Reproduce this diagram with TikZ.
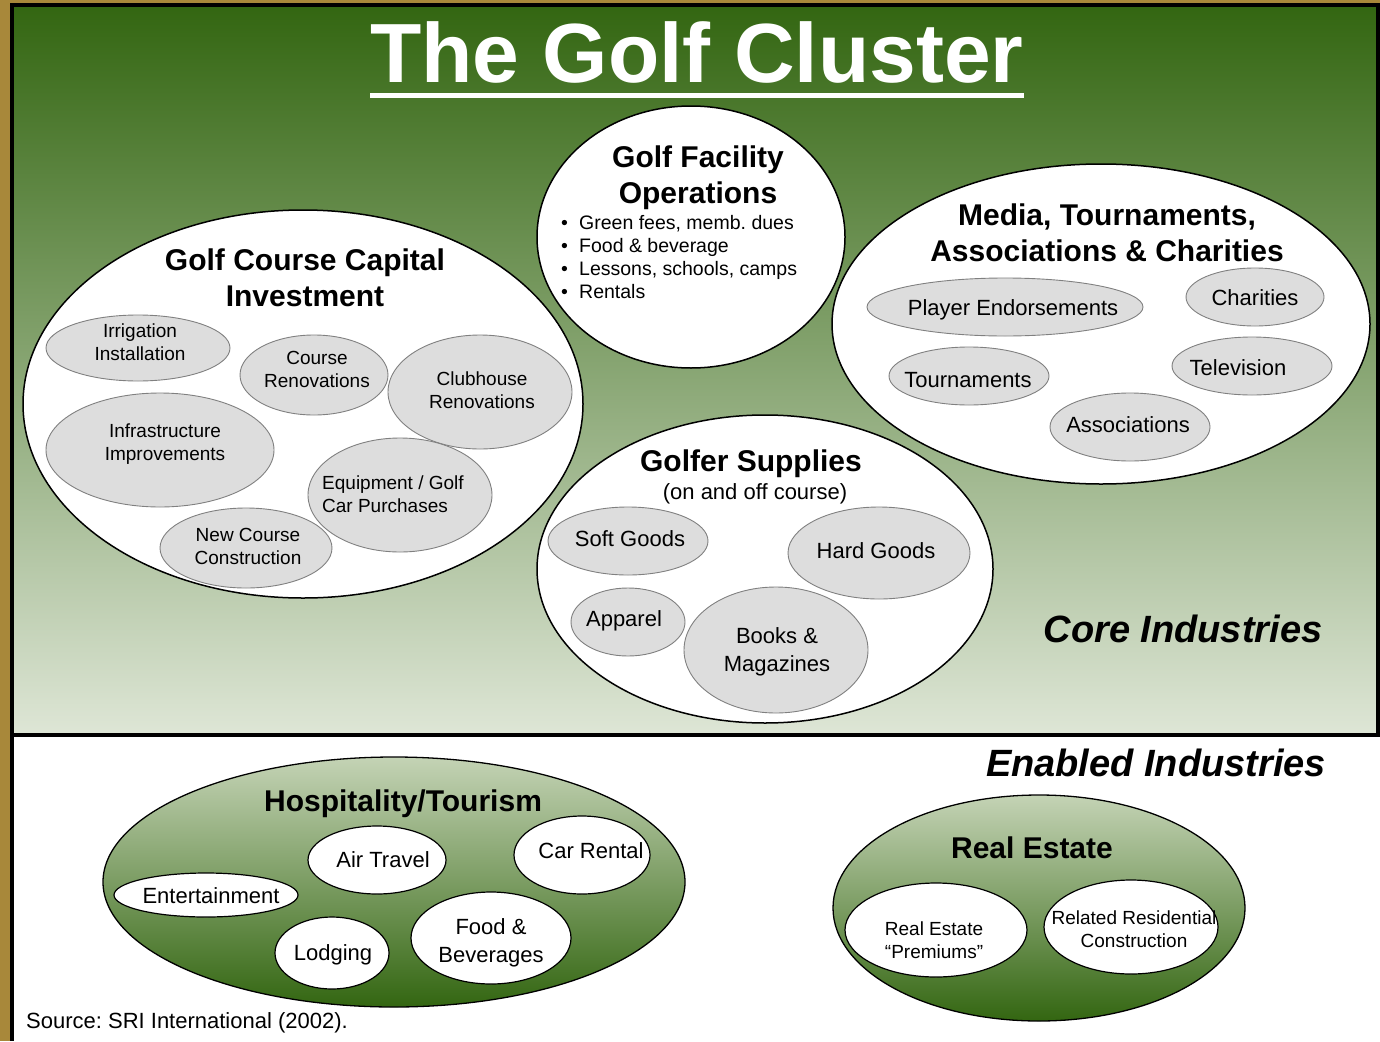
\documentclass[tikz,border=0pt]{standalone}
\usepackage{fontspec}
\setmainfont{Liberation Sans}
\usetikzlibrary{shapes.geometric}
\frenchspacing
\definecolor{gold}{RGB}{168,136,58}
\definecolor{gtop}{RGB}{51,102,17}
\definecolor{gbot}{RGB}{222,230,214}
\definecolor{etop}{RGB}{196,211,181}
\definecolor{ebot}{RGB}{51,102,17}
\definecolor{ggray}{RGB}{221,221,221}
\definecolor{gline}{RGB}{128,128,128}
\newcommand{\fsz}[2]{\fontsize{#1}{#2}\selectfont}
\tikzset{
  sz/.style 2 args={minimum width=2*#1, minimum height=2*#2},
  outerell/.style={ellipse, draw=black, line width=1.5pt, fill=white, inner sep=0pt},
  grayell/.style={ellipse, draw=gline, line width=0.9pt, fill=ggray, inner sep=0pt},
  whiteell/.style={ellipse, draw=black, line width=1.2pt, fill=white, inner sep=0pt},
  greenell/.style={ellipse, draw=black, line width=1.3pt, top color=etop, bottom color=ebot, inner sep=0pt},
  lbl/.style={inner sep=0pt, align=center, font=\fsz{19}{23}},
  mlbl/.style={inner sep=0pt, align=center, font=\fsz{22}{28}},
  head/.style={inner sep=0pt, align=center, font=\fsz{30}{36}\bfseries},
  big/.style={inner sep=0pt, font=\fsz{38}{40}\bfseries\itshape},
}
\begin{document}
\begin{tikzpicture}[x=1pt,y=-1pt]
\useasboundingbox (0,0) rectangle (1380,1041);
\fill[white] (0,0) rectangle (1380,1041);
% frame
\fill[gold] (0,0) rectangle (10,1041);
\fill[gold] (0,0) rectangle (1380,3);
\draw[line width=4pt] (12,5) -- (12,1041);
\path[top color=gtop, bottom color=gbot] (12,5) rectangle (1378,735);
\draw[line width=4pt] (12,5) rectangle (1378,735);

% title
\node[inner sep=0pt, anchor=base, text=white, font=\fsz{84}{84}\bfseries] (title) at (697,82) {The Golf Cluster};
\draw[white, line width=5pt] ([yshift=-13pt]title.base west) -- ([yshift=-13pt]title.base east);

% Golf Course Capital Investment
\node[outerell, sz={280}{194}] (gcci) at (303,404) {};
\node[head] (gccit) at (305,278) {Golf Course Capital\\Investment};
\node[grayell, sz={92}{33}] (irr) at (138,348) {};
\node[lbl] (irrt) at (140,342) {Irrigation\\Installation};
\node[grayell, sz={74}{40}] (cren) at (314,375) {};
\node[lbl] (crent) at (317,369) {Course\\Renovations};
\node[grayell, sz={92}{57}] (chr) at (480,392) {};
\node[lbl] (chrt) at (482,390) {Clubhouse\\Renovations};
\node[grayell, sz={114}{57}] (inf) at (160,450) {};
\node[lbl] (inft) at (165,444) {Infrastructure\\Improvements};
\node[grayell, sz={92}{57}] (eq) at (400,495) {};
\node[lbl, anchor=west, align=left] (eqt) at (322,494) {Equipment / Golf\\Car Purchases};
\node[grayell, sz={86}{40}] (ncc) at (246,548) {};
\node[lbl] (ncct) at (248,546) {New Course\\Construction};

% Golf Facility Operations
\node[outerell, sz={154}{131}] (gfo) at (691,237) {};
\node[head] (gfot) at (698,178) {Golf Facility\\Operations};
\node[anchor=west, inner sep=0pt, align=left, font=\fsz{19.5}{23}] (gfob) at (561,257)
  {\makebox[18pt][l]{•}Green fees, memb. dues\\
   \makebox[18pt][l]{•}Food \& beverage\\
   \makebox[18pt][l]{•}Lessons, schools, camps\\
   \makebox[18pt][l]{•}Rentals};

% Media, Tournaments...
\node[outerell, sz={269}{160}] (mta) at (1101,324) {};
\node[head] (mtat) at (1107,233) {Media, Tournaments,\\Associations \& Charities};
\node[grayell, sz={138}{29}] (pe) at (1005,307) {};
\node[mlbl] (pet) at (1013,310) {Player Endorsements};
\node[grayell, sz={69}{29}] (cha) at (1255,297) {};
\node[mlbl] (chat) at (1255,298) {Charities};
\node[grayell, sz={80}{29}] (tou) at (969,376) {};
\node[mlbl] (tout) at (968,380) {Tournaments};
\node[grayell, sz={80}{29}] (tv) at (1252,366) {};
\node[mlbl] (tvt) at (1238,368) {Television};
\node[grayell, sz={80}{34}] (ass) at (1130,427) {};
\node[mlbl] (asst) at (1128,425) {Associations};

% Golfer Supplies
\node[outerell, sz={228}{154}] (gs) at (765,569) {};
\node[inner sep=0pt, anchor=base, font=\fsz{30}{36}\bfseries] (gst) at (751,471) {Golfer Supplies};
\node[inner sep=0pt, anchor=base, font=\fsz{22}{26}] (gss) at (755,499) {(on and off course)};
\node[grayell, sz={80}{34}] (sg) at (628,541) {};
\node[mlbl] (sgt) at (630,539) {Soft Goods};
\node[grayell, sz={91}{46}] (hg) at (879,553) {};
\node[mlbl] (hgt) at (876,551) {Hard Goods};
\node[grayell, sz={57}{34}] (app) at (628,622) {};
\node[mlbl] (appt) at (624,621) {Apparel};
\node[grayell, sz={92}{63}] (bm) at (776,650) {};
\node[mlbl] (bmt) at (777,652) {Books \&\\Magazines};

\node[big] (core) at (1183,629) {Core Industries};
\node[big] (enab) at (1156,763) {Enabled Industries};

% Hospitality / Tourism
\node[greenell, sz={291}{125}] (hosp) at (394,882) {};
\node[head] (hospt) at (403,804) {Hospitality/Tourism};
\node[whiteell, sz={69}{34}] (air) at (377,860) {};
\node[mlbl] (airt) at (383,860) {Air Travel};
\node[whiteell, sz={68}{39}] (car) at (582,855) {};
\node[mlbl] (cart) at (591,851) {Car Rental};
\node[whiteell, sz={92}{22}] (ent) at (206,895) {};
\node[mlbl] (entt) at (211,896) {Entertainment};
\node[whiteell, sz={57}{36}] (lod) at (332,953) {};
\node[mlbl] (lodt) at (333,955) {Lodging};
\node[whiteell, sz={80}{46}] (fb) at (491,938) {};
\node[mlbl] (fbt) at (491,943) {Food \&\\Beverages};

% Real Estate
\node[greenell, sz={206}{113}] (re) at (1039,908) {};
\node[head] (ret) at (1032,848) {Real Estate};
\node[whiteell, sz={91}{47}] (rep) at (936,930) {};
\node[lbl] (rept) at (934,940) {Real Estate\\“Premiums”};
\node[whiteell, sz={87}{47}] (rrc) at (1131,927) {};
\node[lbl] (rrct) at (1134,929) {Related Residential\\Construction};

% source
\node[anchor=west, inner sep=0pt, font=\fsz{22}{26}] (src) at (26,1023) {Source: SRI International (2002).};
\end{tikzpicture}
\end{document}
